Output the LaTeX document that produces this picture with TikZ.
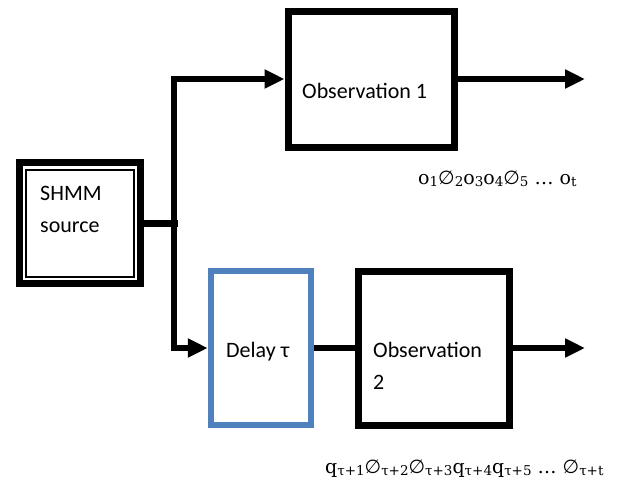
\documentclass[tikz,border=0pt]{standalone}
\usepackage{fontspec}
\setmainfont{Carlito}
\newfontfamily\seqfont{DejaVu Serif}
\newfontfamily\symfont{DejaVu Sans}
\usetikzlibrary{arrows.meta}
\definecolor{delayblue}{HTML}{4F81BD}
\newcommand\sbs[1]{\raisebox{-0.3ex}{\fontsize{13.5}{14}\selectfont #1}}
\newcommand\es{{\symfont ∅}}
\tikzset{
  conn/.style={line width=6.5pt, line join=miter},
  arr/.style={conn, -{Triangle[length=20pt,width=18pt]}},
  lbl/.style={anchor=base west, inner sep=0pt, font=\fontsize{22}{32}\selectfont, align=left},
  seq/.style={anchor=base west, inner sep=0pt, font=\seqfont\fontsize{19}{22}\selectfont}
}
\begin{document}
\begin{tikzpicture}[x=1pt,y=-1pt]
\useasboundingbox (0,0) rectangle (622,483);
% SHMM source double box
\node[draw=black, line width=7pt, minimum width=121pt, minimum height=121pt, inner sep=0pt] (src) at (80,223) {};
\draw[line width=2pt] (26,170) rectangle (134,277);
\node[lbl] (srct) at (40,232) {SHMM\\source};
% Observation 1
\node[draw=black, line width=7pt, minimum width=166pt, minimum height=136pt, inner sep=0pt] (obs1) at (371,79) {};
\node[lbl] (obs1t) at (302,98) {Observation 1};
% Delay
\node[draw=delayblue, line width=6.5pt, minimum width=100pt, minimum height=154pt, inner sep=0pt] (delay) at (261,348) {};
\node[lbl] (delayt) at (226,357) {Delay τ};
% Observation 2
\node[draw=black, line width=7pt, minimum width=151pt, minimum height=154pt, inner sep=0pt] (obs2) at (433.5,348) {};
\node[lbl] (obs2t) at (373,389) {Observation\\2};
% junction and free ends
\coordinate (j) at (174,223.5);
\coordinate (o1end) at (585,79);
\coordinate (o2end) at (585,348);
% connectors
\draw[conn] (src.east |- j) -- ([xshift=3.5pt]j);
\draw[arr] (j) |- (obs1.west);
\draw[arr] (j) |- (delay.west);
\draw[conn] (delay.east) -- (obs2.west);
\draw[arr] (obs1.east) -- (o1end);
\draw[arr] (obs2.east) -- (o2end);
% sequences
\node[seq] (seq1) at (418,184) {o\sbs{1}\es\sbs{2}o\sbs{3}o\sbs{4}\es\sbs{5} … o\sbs{t}};
\node[seq] (seq2) at (325,473) {q\sbs{τ+1}\es\sbs{τ+2}\es\sbs{τ+3}q\sbs{τ+4}q\sbs{τ+5} … \es\sbs{τ+t}};
\end{tikzpicture}
\end{document}
